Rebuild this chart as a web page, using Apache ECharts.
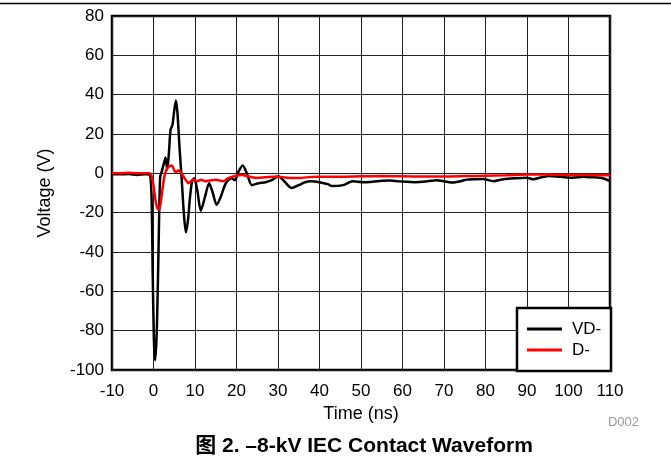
<!DOCTYPE html>
<html>
<head>
<meta charset="utf-8">
<script src="https://cdn.jsdelivr.net/npm/echarts@6/dist/echarts.min.js"></script>
<style>
html,body{margin:0;padding:0;background:#fff;}
#chart{width:671px;height:466px;}
</style>
</head>
<body>
<div id="chart"></div>
<script>
// ---- data ----
const seriesNames = ['VD-', 'D-'];
const xTicks = [-10, 0, 10, 20, 30, 40, 50, 60, 70, 80, 90, 100, 110];
const yTicks = [-100, -80, -60, -40, -20, 0, 20, 40, 60, 80];

const timeVD = [-10, -8, -6, -4, -2, -1, -0.5, -0.2, 0.1, 0.4, 0.8, 1.2, 1.6, 2.0, 2.5, 2.9, 3.3, 3.7, 4.1, 4.6, 5.0, 5.4, 5.8, 6.3, 6.8, 7.3, 7.8, 8.3, 8.8, 9.3, 9.8, 10.5, 11.4, 12.4, 13.4, 14.3, 15.2, 16.2, 17.2, 18.0, 18.8, 19.6, 20.5, 21.5, 22.5, 23.7, 25.3, 27, 28.5, 30.1, 31.5, 33.3, 35, 36.5, 38, 40, 42, 43, 45.7, 48, 50.6, 53, 55, 57, 59, 61, 63, 65, 67, 68.2, 70, 72.2, 74, 75.5, 77.5, 79.5, 81.9, 84.3, 87, 89.9, 91.5, 93.5, 95.5, 98, 100.4, 102, 103.6, 105.5, 107.6, 109, 110];
const valuesVD = [-0.3, -0.5, -0.4, -0.8, -0.5, -0.6, -10, -50, -85, -95, -80, -40, -2, 1, 5, 8, 2, 10, 22, 25, 32, 37, 30, 12, -3, -20, -30, -24, -12, -4, -2.5, -8, -19, -12, -5, -10, -16, -12, -6, -3.5, -2.5, -3.5, 1, 4, 0, -6, -5, -4.5, -3.5, -1.5, -4, -7.5, -6, -4.5, -4, -4.5, -5.5, -6.5, -6, -4, -4.5, -4.2, -3.8, -3.6, -4, -4.3, -4.5, -4.3, -3.8, -3.5, -4, -4.7, -4, -3.2, -3, -2.9, -4, -3, -2.5, -2.2, -3, -2, -1.3, -1.8, -2.2, -2, -1.8, -2, -2.2, -3, -4];

const timeD = [-10, -8, -6, -4, -2, -1, -0.5, 0, 0.5, 1.0, 1.4, 1.8, 2.3, 2.8, 3.3, 3.8, 4.4, 5.0, 5.4, 6.0, 6.4, 7.2, 7.8, 8.4, 9.0, 9.6, 10.5, 11.5, 12.5, 13.6, 15, 16.8, 18, 19.2, 20.5, 21.3, 23, 24.9, 27, 29.7, 32, 35, 38, 40, 45, 50, 55, 60, 65, 70, 75, 80, 85, 90, 95, 100, 105, 110];
const valuesD = [0.2, 0, 0.3, 0, 0.1, 0, -1, -6, -14, -18, -18.5, -14, -6, 0, 2.5, 3.5, 4, 1.5, 0.5, 1.5, 1, -1.5, -3.5, -5, -4, -3.3, -4, -3.2, -4, -3.6, -3.2, -4, -2.5, -1.6, -1, -0.8, -1.6, -2.4, -2, -1.6, -2.2, -2.4, -1.8, -1.7, -1.7, -1.5, -1.4, -1.5, -1.6, -1.6, -1.4, -1.2, -1, -0.6, -0.6, -0.8, -0.9, -1];

const xName = 'Time (ns)';
const yName = 'Voltage (V)';
const titleText = '图 2. –8-kV IEC Contact Waveform';
const figId = 'D002';

const pairs = (t, v) => t.map((x, i) => [x, v[i]]);
const FONT = '"Liberation Sans", Arial, "Noto Sans CJK SC", sans-serif';

const chart = echarts.init(document.getElementById('chart'), null, {renderer: 'canvas'});
chart.setOption({
  animation: false,
  backgroundColor: '#fff',
  grid: {left: 112, right: 61, top: 16, bottom: 96, show: true, borderColor: '#000', borderWidth: 2.5, backgroundColor: 'transparent'},
  xAxis: {
    type: 'value', min: xTicks[0], max: xTicks[xTicks.length - 1], interval: 10,
    name: xName, nameLocation: 'middle', nameGap: 34,
    nameTextStyle: {fontFamily: FONT, fontSize: 18, color: '#000'},
    axisLine: {show: false}, axisTick: {show: false},
    axisLabel: {fontFamily: FONT, fontSize: 17, color: '#000', margin: 13},
    splitLine: {show: true, lineStyle: {color: '#222', width: 1}}
  },
  yAxis: {
    type: 'value', min: yTicks[0], max: yTicks[yTicks.length - 1], interval: 20,
    name: yName, nameLocation: 'middle', nameGap: 58,
    nameTextStyle: {fontFamily: FONT, fontSize: 18, color: '#000'},
    axisLine: {show: false}, axisTick: {show: false},
    axisLabel: {fontFamily: FONT, fontSize: 17, color: '#000', margin: 8},
    splitLine: {show: true, lineStyle: {color: '#222', width: 1}}
  },
  legend: {
    orient: 'vertical', left: 517, top: 310, z: 20,
    padding: [10, 4, 10, 10], itemGap: 3, itemWidth: 35, itemHeight: 3,
    icon: 'rect',
    textStyle: {fontFamily: FONT, fontSize: 17, color: '#000', lineHeight: 18, padding: [0, 0, 0, 5]},
    data: seriesNames
  },
  graphic: [
    {type: 'rect', z: 10, shape: {x: 517, y: 308, width: 94, height: 63},
     style: {fill: '#fff', stroke: '#000', lineWidth: 2.5}},
    {type: 'line', shape: {x1: 0, y1: 3.5, x2: 671, y2: 3.5}, style: {stroke: '#000', lineWidth: 1.5}},
    {type: 'text', x: 364, y: 446, style: {text: titleText, font: 'bold 21px ' + FONT, fill: '#000', align: 'center', verticalAlign: 'middle'}},
    {type: 'text', x: 639, y: 422, style: {text: figId, font: '13px ' + FONT, fill: '#9a9a9a', align: 'right', verticalAlign: 'middle'}}
  ],
  series: [
    {name: seriesNames[0], type: 'line', data: pairs(timeVD, valuesVD), showSymbol: false, smooth: 0.25,
     lineStyle: {color: '#000', width: 2.5}, itemStyle: {color: '#000'}, z: 3},
    {name: seriesNames[1], type: 'line', data: pairs(timeD, valuesD), showSymbol: false, smooth: 0.25,
     lineStyle: {color: '#ff0000', width: 2.5}, itemStyle: {color: '#ff0000'}, z: 4}
  ]
});
</script>
</body>
</html>
